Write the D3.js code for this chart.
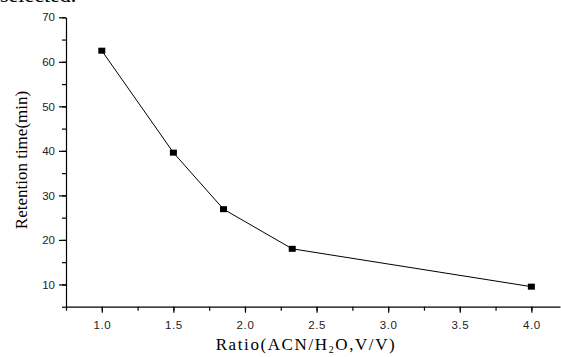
<!DOCTYPE html>
<html>
<head>
<meta charset="utf-8">
<script src="https://cdn.jsdelivr.net/npm/d3@7/dist/d3.min.js"></script>
<style>
    html, body { margin: 0; padding: 0; background: #fff; }
    svg { display: block; }
</style>
</head>
<body>
<svg id="chart" width="561" height="357"></svg>
<script>
    "use strict";

    // data
    var ratios = [1.0, 1.5, 1.85, 2.33, 4.0];
    var retention = [62.5, 39.6, 26.9, 18.0, 9.5];
    var xTickLabels = [1.0, 1.5, 2.0, 2.5, 3.0, 3.5, 4.0];
    var yTickLabels = [10, 20, 30, 40, 50, 60, 70];

    var svg = d3.select("#chart");

    var x = d3.scaleLinear().domain([0.75, 4.2]).range([66, 560]);
    var y = d3.scaleLinear().domain([5, 70]).range([306.7, 17.3]);

    // caption fragment cut off at top of the crop
    svg.append("text")
        .attr("x", 0)
        .attr("y", 2)
        .attr("font-family", "Liberation Serif")
        .attr("font-size", 22)
        .text("selected.");

    var xMinor = d3.range(0.75, 4.21, 0.25);
    var yMinor = d3.range(5, 70.1, 5);

    // minor ticks first, majors drawn on top
    svg.append("g")
        .attr("transform", "translate(0," + y(5) + ")")
        .call(d3.axisBottom(x).tickValues(xMinor).tickSize(4).tickFormat(""))
        .call(function (g) { g.select(".domain").remove(); });

    svg.append("g")
        .attr("transform", "translate(" + x(0.75) + ",0)")
        .call(d3.axisLeft(y).tickValues(yMinor).tickSize(4).tickFormat(""))
        .call(function (g) { g.select(".domain").remove(); });

    var xAxis = svg.append("g")
        .attr("transform", "translate(0," + y(5) + ")")
        .call(d3.axisBottom(x).tickValues(xTickLabels).tickSize(6).tickPadding(8).tickSizeOuter(0).tickFormat(d3.format(".1f")));

    var yAxis = svg.append("g")
        .attr("transform", "translate(" + x(0.75) + ",0)")
        .call(d3.axisLeft(y).tickValues(yTickLabels).tickSize(7).tickPadding(4).tickSizeOuter(0));

    svg.selectAll(".tick text")
        .attr("font-family", "Liberation Sans, Arial, sans-serif")
        .attr("font-size", 11.5)
        .attr("fill", "#222");
    xAxis.selectAll(".tick text").attr("letter-spacing", 0.6);
    svg.selectAll(".domain, .tick line").attr("stroke", "#000").attr("stroke-width", 1.2);

    // axis titles
    var xTitle = svg.append("text")
        .attr("x", 306)
        .attr("y", 350)
        .attr("text-anchor", "middle")
        .attr("font-family", "Liberation Serif, Times New Roman, serif")
        .attr("font-size", 17)
        .attr("letter-spacing", 1.6);
    xTitle.append("tspan").text("Ratio(ACN/H");
    xTitle.append("tspan").attr("font-size", 10).attr("dy", 3).text("2");
    xTitle.append("tspan").attr("dy", -3).text("O,V/V)");

    svg.append("text")
        .attr("transform", "translate(27,160) rotate(-90)")
        .attr("text-anchor", "middle")
        .attr("font-family", "Liberation Serif, Times New Roman, serif")
        .attr("font-size", 17)
        .text("Retention time(min)");

    var points = ratios.map(function (r, i) { return [r, retention[i]]; });

    var line = d3.line()
        .x(function (d) { return x(d[0]); })
        .y(function (d) { return y(d[1]); });

    svg.append("path")
        .datum(points)
        .attr("d", line)
        .attr("fill", "none")
        .attr("stroke", "#000")
        .attr("stroke-width", 1);

    svg.selectAll("rect.marker")
        .data(points)
        .enter()
        .append("rect")
        .attr("class", "marker")
        .attr("x", function (d) { return x(d[0]) - 3.5; })
        .attr("y", function (d) { return y(d[1]) - 3; })
        .attr("width", 7)
        .attr("height", 6)
        .attr("fill", "#000");
</script>
</body>
</html>
